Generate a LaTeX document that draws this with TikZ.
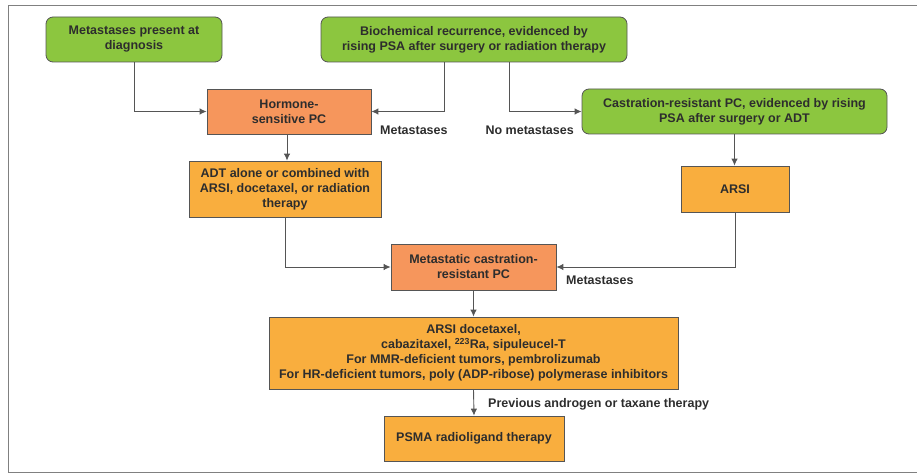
\documentclass[tikz,border=0pt]{standalone}
\usepackage{fontspec}
\setmainfont{Liberation Sans}
\usepackage{tikz}
\usetikzlibrary{shapes,arrows.meta,positioning}

\definecolor{boxgreen}{RGB}{140,198,63}
\definecolor{boxsalmon}{RGB}{246,150,92}
\definecolor{boxorange}{RGB}{249,174,62}
\definecolor{txtgray}{RGB}{45,45,45}
\definecolor{linegray}{RGB}{85,85,85}

\tikzset{
  box/.style={draw=linegray, line width=0.8pt, align=center, inner sep=2pt,
    text=txtgray, font=\fontsize{12.5}{15}\selectfont\bfseries},
  greenbox/.style={box, fill=boxgreen, rounded corners=7pt},
  salmonbox/.style={box, fill=boxsalmon},
  orangebox/.style={box, fill=boxorange},
  flow/.style={draw=linegray, line width=0.9pt, -{Latex[length=7pt,width=6.5pt]}},
  note/.style={text=txtgray, font=\fontsize{12.5}{15}\selectfont\bfseries, inner sep=0pt}
}

\begin{document}
\begin{tikzpicture}[x=1pt,y=-1pt]
\useasboundingbox (0,0) rectangle (917,473);
\draw[gray, line width=1pt] (917,6) -- (8,6) -- (8,472) -- (917,472);

% top row
\node[greenbox, minimum width=176, minimum height=45] (diag) at (134,39.5)
  {Metastases present at\\diagnosis};
\node[greenbox, minimum width=306, minimum height=45] (biochem) at (474,39.5)
  {Biochemical recurrence, evidenced by\\rising PSA after surgery or radiation therapy};

% hormone-sensitive branch
\node[salmonbox, minimum width=164, minimum height=45] (hspc) at (289,111.5)
  {Hormone-\\sensitive PC};
\node[orangebox, minimum width=192, minimum height=56] (adt) at (285,189)
  {ADT alone or combined with\\ARSI, docetaxel, or radiation\\therapy};

% castration-resistant branch
\node[greenbox, minimum width=305, minimum height=45] (crpc) at (734.5,111.5)
  {Castration-resistant PC, evidenced by rising\\PSA after surgery or ADT};
\node[orangebox, minimum width=108, minimum height=46] (arsi) at (735,189) {ARSI};

% metastatic CRPC
\node[salmonbox, minimum width=165, minimum height=46] (mcrpc) at (473.5,267)
  {Metastatic castration-\\resistant PC};
\node[orangebox, minimum width=409, minimum height=72] (treat) at (473.5,353)
  {ARSI docetaxel,\\cabazitaxel, \textsuperscript{223}Ra, sipuleucel-T\\For MMR-deficient tumors, pembrolizumab\\For HR-deficient tumors, poly (ADP-ribose) polymerase inhibitors};
\node[orangebox, minimum width=180, minimum height=45] (psma) at (474,438.5)
  {PSMA radioligand therapy};

% connectors
\draw[flow] (diag.south) |- (hspc.west);
\draw[flow] ([xshift=-30]biochem.south) |- (hspc.east);
\draw[flow] ([xshift=35]biochem.south) |- (crpc.west);
\draw[flow] ([xshift=-2]hspc.south) -- ([xshift=-2]hspc.south |- adt.north);
\draw[flow] (crpc.south) -- (crpc.south |- arsi.north);
\draw[flow] (adt.south) |- (mcrpc.west);
\draw[flow] (arsi.south) |- (mcrpc.east);
\draw[flow] (mcrpc.south) -- (treat.north);
\draw[flow] (treat.south) -- (psma.north);

% labels
\node[note, anchor=west] (metA) at (380,130) {Metastases};
\node[note, anchor=east] (nomet) at (574,130) {No metastases};
\node[note, anchor=west] (metB) at (566,280) {Metastases};
\node[note, anchor=west] (prev) at (488,404) {Previous androgen or taxane therapy};

\end{tikzpicture}
\end{document}
